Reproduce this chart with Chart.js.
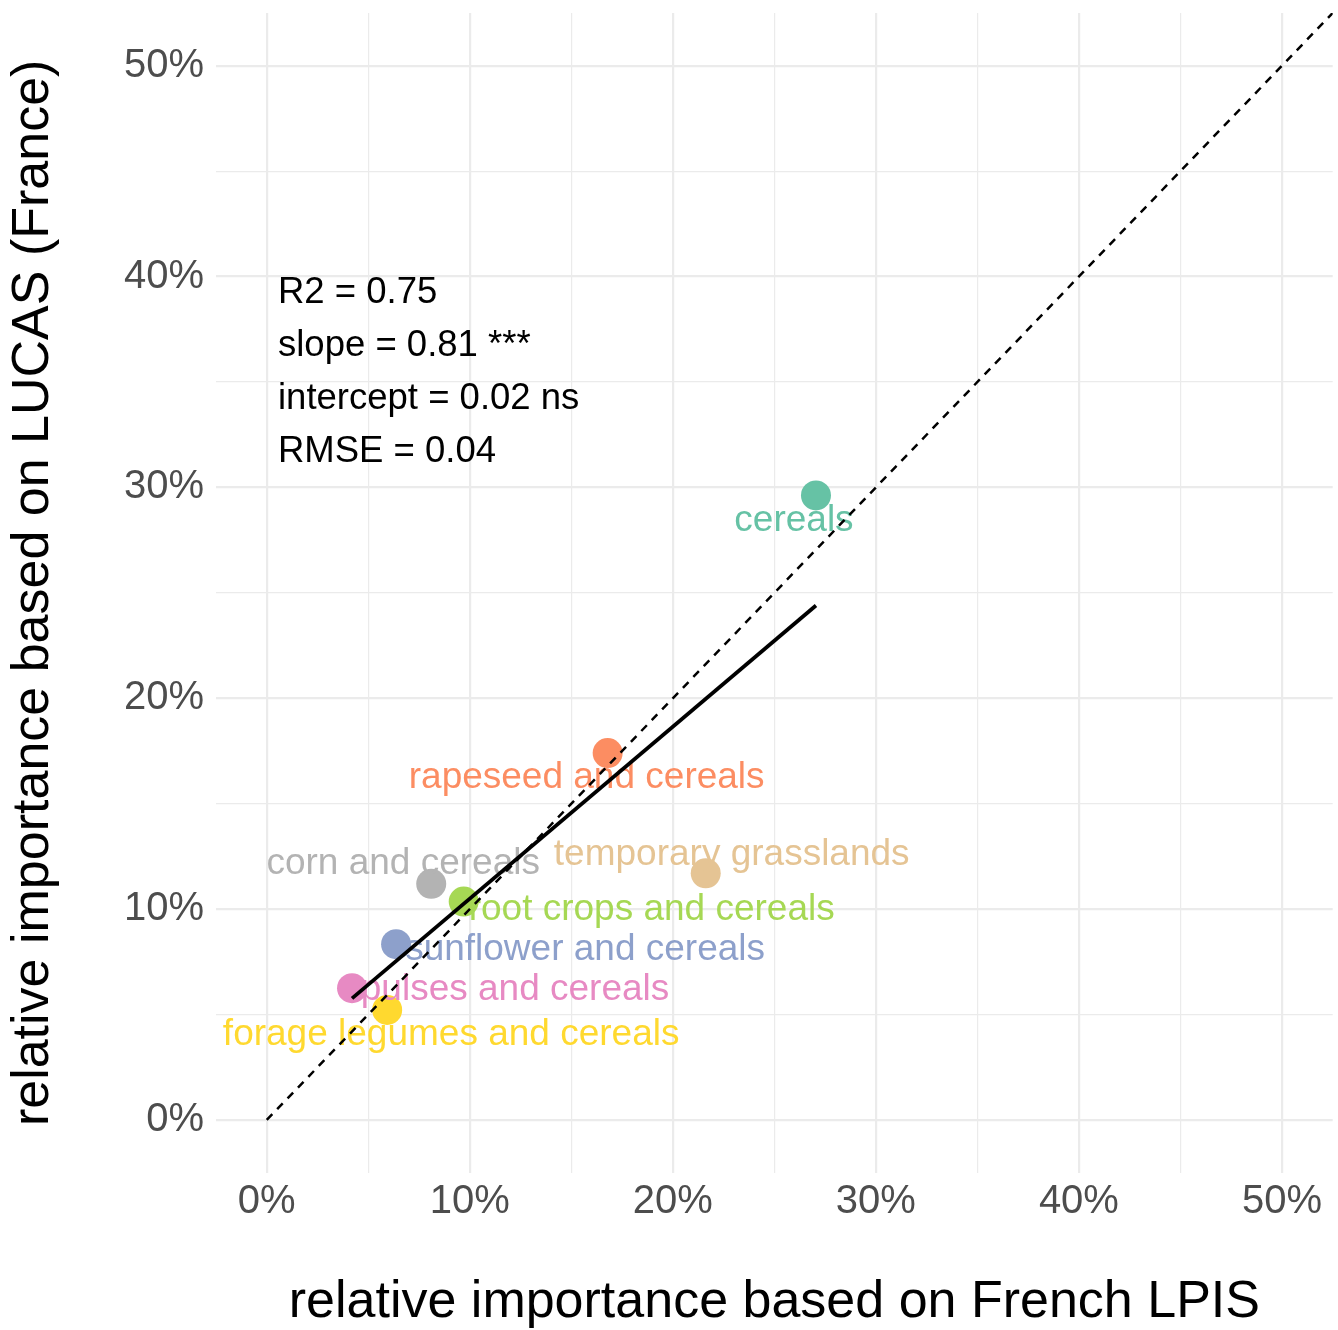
<!DOCTYPE html>
<html><head><meta charset="utf-8">
<script src="https://cdn.jsdelivr.net/npm/chart.js@4.4.1/dist/chart.umd.min.js"></script>
<style>html,body{margin:0;padding:0;background:#fff;} #wrap{width:1338px;height:1330px;}</style>
</head><body><div id="wrap"><canvas id="c" width="1338" height="1330"></canvas></div>
<script>
// ---- data ----
const categories = ["cereals","rapeseed and cereals","temporary grasslands","corn and cereals","root crops and cereals","sunflower and cereals","pulses and cereals","forage legumes and cereals"];
const lpisValues = [27.05,16.79,21.62,8.10,9.70,6.37,4.20,5.93];
const lucasValues = [29.62,17.40,11.70,11.20,10.36,8.34,6.25,5.22];
const tickValues = [0,5,10,15,20,25,30,35,40,45,50];
const statsLines = ["R2 = 0.75","slope = 0.81 ***","intercept = 0.02 ns","RMSE = 0.04"];
const identityRange = [0, 52.5];
const axisRange = [-2.5, 52.5];

// ---- style ----
const FONT = '"Liberation Sans", Arial, Helvetica, sans-serif';
const colors = ["#66C2A5","#FC8D62","#E5C494","#B3B3B3","#A6D854","#8DA0CB","#E78AC3","#FFD92F"];
const labelOffsets = [[-22,36],[-21,35],[26,-8.5],[-28,-10],[188,18],[189,16],[163,12],[64,35]];

// least-squares fit of LUCAS on LPIS
function fit(xs, ys){
  const n = xs.length;
  const mx = xs.reduce((a,b)=>a+b,0)/n, my = ys.reduce((a,b)=>a+b,0)/n;
  let sxy=0, sxx=0;
  for(let i=0;i<n;i++){ sxy+=(xs[i]-mx)*(ys[i]-my); sxx+=(xs[i]-mx)**2; }
  const slope = sxy/sxx; return {slope, intercept: my - slope*mx};
}
const lm = fit(lpisValues, lucasValues);
const xMin = Math.min(...lpisValues), xMax = Math.max(...lpisValues);

const labelPlugin = {
  id: 'pointLabels',
  afterDatasetDraw(chart, args){
    if(args.index !== 0) return;
    const ctx = chart.ctx, meta = chart.getDatasetMeta(0);
    ctx.save();
    ctx.font = '37px ' + FONT; ctx.textAlign = 'center'; ctx.textBaseline = 'alphabetic';
    meta.data.forEach((el,i)=>{
      ctx.fillStyle = colors[i];
      ctx.fillText(categories[i], el.x + labelOffsets[i][0], el.y + labelOffsets[i][1]);
    });
    ctx.restore();
  },
  afterDraw(chart){
    const ctx = chart.ctx, a = chart.chartArea;
    ctx.save();
    ctx.font = '36.5px ' + FONT; ctx.fillStyle = '#000'; ctx.textAlign = 'left'; ctx.textBaseline = 'alphabetic';
    statsLines.forEach((t,i)=> ctx.fillText(t, a.left + 62, a.top + 290 + i*53));
    ctx.restore();
  }
};

const gridColor = '#EBEBEB';
function axis(titleText, isX){
  return {
    type: 'linear', min: axisRange[0], max: axisRange[1],
    afterBuildTicks: s => { s.ticks = tickValues.map(v => ({value: v})); },
    afterFit: s => {
      if(isX) s.height = 157.3; else s.width = 216;
      s.paddingTop = 0; s.paddingBottom = 0; s.paddingLeft = 0; s.paddingRight = 0;
    },
    border: {display: false},
    grid: {
      drawTicks: false, color: gridColor,
      lineWidth: c => (c.tick && c.tick.value % 10 === 0) ? 2.2 : 1.2
    },
    ticks: {
      autoSkip: false, maxRotation: 0, padding: isX ? 5 : 12,
      color: '#4D4D4D', font: {family: FONT, size: 40},
      callback: v => (v % 10 === 0) ? v + '%' : ''
    },
    title: {
      display: true, text: titleText, color: '#000',
      font: {family: FONT, size: 52, lineHeight: 1},
      padding: isX ? {top: 0, bottom: 1} : {top: 8, bottom: 0}
    }
  };
}

new Chart(document.getElementById('c'), {
  type: 'scatter',
  data: {
    datasets: [
      {
        label: 'crops', order: 3,
        data: lpisValues.map((x,i)=>({x, y: lucasValues[i]})),
        backgroundColor: colors, pointBackgroundColor: colors,
        pointRadius: 15, pointHoverRadius: 15, borderWidth: 0, pointBorderWidth: 0
      },
      {
        label: 'fit', type: 'line', order: 2,
        data: [xMin, xMax].map(x => ({x, y: lm.intercept + lm.slope*x})),
        borderColor: '#000', borderWidth: 3.8, pointRadius: 0, fill: false
      },
      {
        label: '1:1', type: 'line', order: 1,
        data: identityRange.map(v => ({x: v, y: v})),
        borderColor: '#000', borderWidth: 2.5, borderDash: [8,7], pointRadius: 0, fill: false
      }
    ]
  },
  options: {
    responsive: false, animation: false, devicePixelRatio: 1, events: [],
    layout: {autoPadding: false, padding: {top: 13, right: 5.3, left: 0, bottom: 0}},
    plugins: {legend: {display: false}, tooltip: {enabled: false}},
    scales: {
      x: axis('relative importance based on French LPIS', true),
      y: axis('relative importance based on LUCAS (France)', false)
    }
  },
  plugins: [labelPlugin]
});
</script></body></html>
